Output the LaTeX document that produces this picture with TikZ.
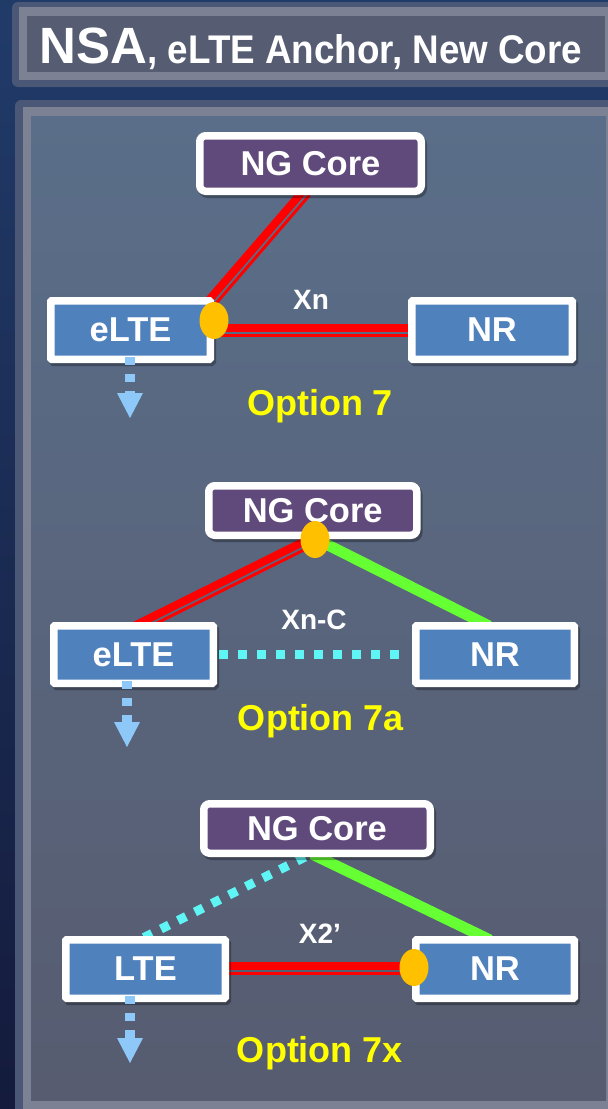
\documentclass[tikz,border=0pt]{standalone}
\usepackage{fontspec}
\setmainfont{Liberation Sans}
\usetikzlibrary{calc,arrows.meta,shadows,shapes.geometric}
\definecolor{navyA}{HTML}{213B69}
\definecolor{navyB}{HTML}{141B3C}
\definecolor{frameDark}{HTML}{4A5777}
\definecolor{frameLight}{HTML}{7C8294}
\definecolor{titleFill}{HTML}{565D73}
\definecolor{panelTop}{HTML}{5A6E89}
\definecolor{panelBot}{HTML}{575C70}
\definecolor{boxBlue}{HTML}{4F81BD}
\definecolor{corePurple}{HTML}{604A7B}
\definecolor{linkRed}{HTML}{FF0000}
\definecolor{linkGreen}{HTML}{66FF33}
\definecolor{linkCyan}{HTML}{5FF5F5}
\definecolor{arrowBlue}{HTML}{8EC8F8}
\definecolor{dotOrange}{HTML}{FFC000}
\definecolor{optYellow}{HTML}{FFFF00}
\newcommand\dualred[2]{%
  \draw[redthick] (#1) -- (#2);
  \draw[redthin] ($(#1)!7.5pt!-90:(#2)$) -- ($(#2)!7.5pt!90:(#1)$);}
\begin{document}
\begin{tikzpicture}[x=1pt,y=-1pt,
  nodebox/.style={draw=white, line width=7.5pt, rounded corners=1pt, inner sep=0pt,
    text=white, font=\fontsize{34.5}{34.5}\selectfont\bfseries,
    drop shadow={shadow xshift=2pt, shadow yshift=-3pt, opacity=0.3, fill=black, draw=black, line width=7.5pt}},
  ranbox/.style={nodebox, fill=boxBlue},
  corebox/.style={nodebox, fill=corePurple, rounded corners=6pt},
  linklabel/.style={text=white, font=\fontsize{28}{28}\selectfont\bfseries, inner sep=0pt},
  optlabel/.style={text=optYellow, font=\fontsize{36}{36}\selectfont\bfseries, inner sep=0pt, anchor=base},
  anchordot/.style={ellipse, fill=dotOrange, minimum width=29pt, minimum height=37pt, inner sep=0pt},
  redthick/.style={draw=linkRed, line width=8pt},
  redthin/.style={draw=linkRed, line width=3pt},
  greenlink/.style={draw=linkGreen, line width=11pt},
  cyanlink/.style={draw=linkCyan, line width=9pt, dash pattern=on 9pt off 10pt},
  downarrow/.style={draw=arrowBlue, line width=9.5pt, dash pattern=on 8pt off 9pt,
    -{Triangle[width=26pt,length=25pt,line width=0pt]}}
]
\useasboundingbox (0,0) rectangle (608,1109);
\clip (0,0) rectangle (608,1109);
% background
\shade[top color=navyA, bottom color=navyB] (0,0) rectangle (608,1109);
% title frame
\fill[frameDark, rounded corners=6pt] (12,2) rectangle (625,87);
\fill[frameLight] (19,7) rectangle (614,80);
\fill[titleFill] (27,16) rectangle (605,72);
\node[anchor=base west, inner sep=0pt, text=white, font=\bfseries] (title) at (39.5,63)
  {\fontsize{51}{51}\selectfont NSA\scalebox{0.92}[1]{\fontsize{40}{40}\selectfont, eLTE Anchor, New Core}};
% panel frame
\fill[frameDark, rounded corners=6pt] (15,100) rectangle (625,1125);
\fill[frameLight] (23,107) rectangle (614,1109);
\shade[top color=panelTop, bottom color=panelBot] (31,116) rectangle (606,1100);

% ---------- Option 7 ----------
\coordinate (r7a) at (209,300);
\coordinate (r7b) at (304,190);
\coordinate (x7a) at (214,327.5);
\coordinate (x7b) at (411,327.5);
\dualred{r7a}{r7b}
\dualred{x7a}{x7b}
\node[corebox, minimum width=221.5pt, minimum height=55.5pt] (core7) at (310.5,163.5) {NG Core};
\node[ranbox, minimum width=159.5pt, minimum height=58.5pt] (elte7) at (130.5,330) {eLTE};
\node[ranbox, minimum width=160.5pt, minimum height=58.5pt] (nr7) at (492,330) {NR};
\node[anchordot] (dot7) at (214,320.5) {};
\coordinate (s7) at (130,357);
\coordinate (t7) at (130,418);
\draw[downarrow] (s7) -- (t7);
\node[linklabel] (xn7) at (311,299.5) {Xn};
\node[optlabel] (opt7) at (320,415) {Option 7};

% ---------- Option 7a ----------
\coordinate (r7aa) at (132,627);
\coordinate (r7ab) at (305,541);
\coordinate (g7aa) at (322,542);
\coordinate (g7ab) at (489,626);
\coordinate (c7aa) at (219,654.5);
\coordinate (c7ab) at (409,654.5);
\dualred{r7aa}{r7ab}
\draw[greenlink] (g7aa) -- (g7ab);
\draw[cyanlink] (c7aa) -- (c7ab);
\node[corebox, minimum width=208pt, minimum height=49.5pt] (core7a) at (312.75,510.5) {NG Core};
\node[ranbox, minimum width=159.5pt, minimum height=57.5pt] (elte7a) at (133.5,654.5) {eLTE};
\node[ranbox, minimum width=158.5pt, minimum height=57.5pt] (nr7a) at (495,654.5) {NR};
\node[anchordot] (dot7a) at (315,539.5) {};
\coordinate (s7a) at (127,681);
\coordinate (t7a) at (127,747);
\draw[downarrow] (s7a) -- (t7a);
\node[linklabel] (xn7a) at (314,619.5) {Xn-C};
\node[optlabel] (opt7a) at (321,730) {Option 7a};

% ---------- Option 7x ----------
\coordinate (c7xa) at (305,857);
\coordinate (c7xb) at (143,938);
\coordinate (g7xa) at (312,854);
\coordinate (g7xb) at (490,940);
\coordinate (x7xa) at (229,965.5);
\coordinate (x7xb) at (414,965.5);
\draw[cyanlink] (c7xa) -- (c7xb);
\draw[greenlink] (g7xa) -- (g7xb);
\dualred{x7xa}{x7xb}
\node[corebox, minimum width=226.5pt, minimum height=49.5pt] (core7x) at (317,828.5) {NG Core};
\node[ranbox, minimum width=159.5pt, minimum height=58.5pt] (lte7x) at (145.5,969) {LTE};
\node[ranbox, minimum width=158.5pt, minimum height=58.5pt] (nr7x) at (495,969) {NR};
\node[anchordot] (dot7x) at (414,967.5) {};
\coordinate (s7x) at (130,996);
\coordinate (t7x) at (130,1063);
\draw[downarrow] (s7x) -- (t7x);
\node[linklabel] (x27x) at (320,933.5) {X2’};
\node[optlabel] (opt7x) at (320,1062) {Option 7x};
\end{tikzpicture}
\end{document}
